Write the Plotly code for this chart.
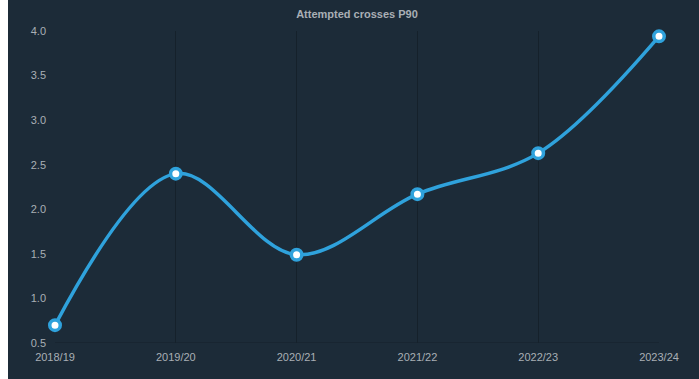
import plotly.graph_objects as go

seasons = ["2018/19", "2019/20", "2020/21", "2021/22", "2022/23", "2023/24"]
crosses_p90 = [0.70, 2.40, 1.49, 2.17, 2.63, 3.94]
y_ticks = [0.5, 1.0, 1.5, 2.0, 2.5, 3.0, 3.5, 4.0]

BG = "#1c2b38"
LINE = "#2fa2dc"
GRID = "#15212b"
TXT = "#a9afb5"

W, H = 699, 379
ML, MR, MT, MB = 55, 40, 31, 36
pw, ph = W - ML - MR, H - MT - MB

fig = go.Figure()
fig.add_trace(go.Scatter(
    x=seasons, y=crosses_p90,
    mode="lines+markers",
    line=dict(color=LINE, width=3.5, shape="spline", smoothing=1.0),
    marker=dict(size=10.5, color="white", line=dict(color=LINE, width=3.5)),
    cliponaxis=False,
    hoverinfo="x+y",
))

# dark panel behind the chart, leaving a thin white strip at the left edge
fig.add_shape(
    type="rect", xref="paper", yref="paper", layer="below",
    x0=(8 - ML) / pw, x1=(W + 5 - ML) / pw,
    y0=-(MB + 5) / ph, y1=(ph + MT + 5) / ph,
    fillcolor=BG, line=dict(width=0),
)

fig.update_layout(
    width=W, height=H,
    margin=dict(l=ML, r=MR, t=MT, b=MB),
    paper_bgcolor="white",
    plot_bgcolor="rgba(0,0,0,0)",
    showlegend=False,
    title=dict(
        text="<b>Attempted crosses P90</b>",
        x=0.5, xref="paper", xanchor="center",
        y=1 - 14 / H, yanchor="middle",
        font=dict(family="Liberation Sans, Arial", size=11, color=TXT),
    ),
    font=dict(family="Liberation Sans, Arial", size=11, color=TXT),
)
fig.update_xaxes(
    type="category", range=[0, 5],
    showgrid=True, gridcolor=GRID, gridwidth=1,
    showline=False, zeroline=False, ticks="",
    ticklabelstandoff=6,
    tickfont=dict(size=11, color=TXT),
)
fig.update_yaxes(
    range=[0.5, 4.0], tickvals=y_ticks, tickformat=".1f",
    showgrid=False, zeroline=False,
    showline=False, ticks="",
    ticklabelstandoff=8,
    tickfont=dict(size=11, color=TXT),
)
# baseline along the bottom of the plotting area
fig.add_shape(
    type="line", xref="paper", yref="y", layer="below",
    x0=0, x1=1, y0=0.5, y1=0.5,
    line=dict(color=GRID, width=1),
)

fig.write_html("out.html")
